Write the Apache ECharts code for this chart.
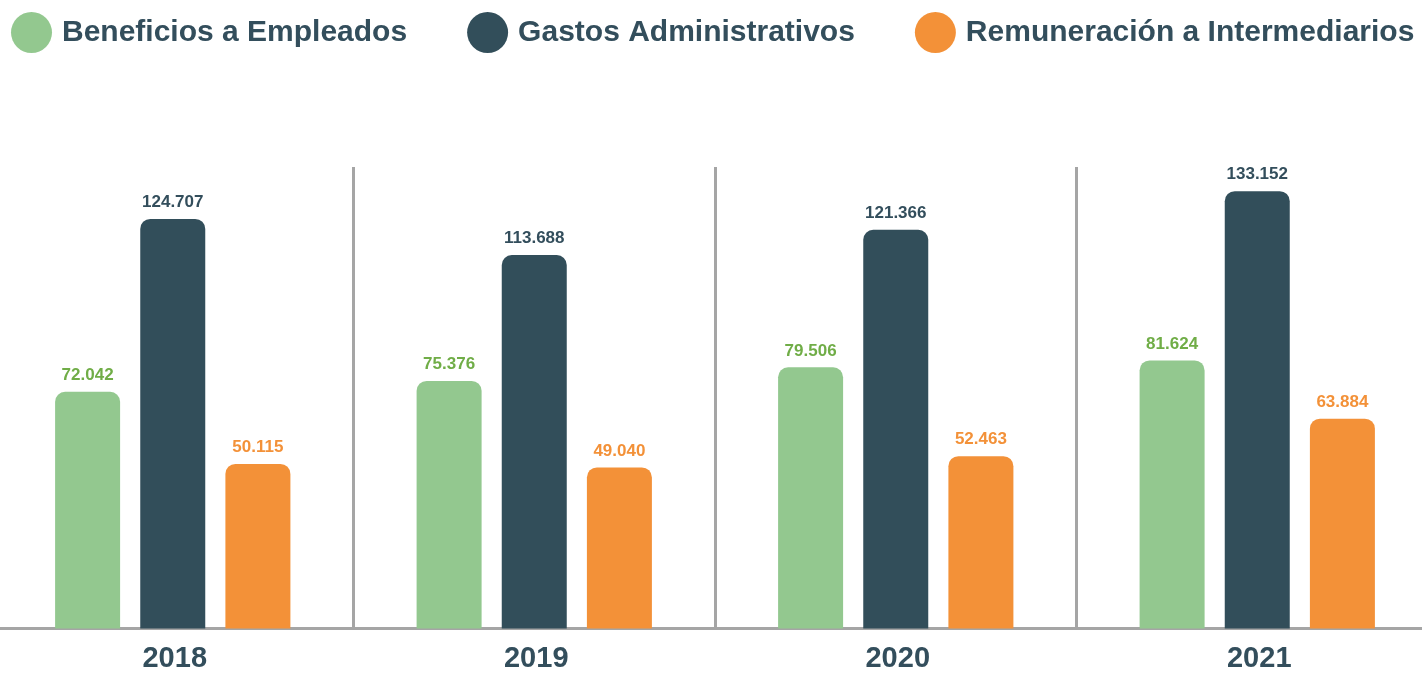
<!DOCTYPE html>
<html>
<head>
<meta charset="utf-8">
<script src="https://cdn.jsdelivr.net/npm/echarts@6/dist/echarts.min.js"></script>
<style>
  html, body { margin: 0; padding: 0; background: #ffffff; overflow: hidden; }
  body { width: 1422px; height: 674px; position: relative; }
  /* The plot is a little wider than the page so the outer category edges fall off-screen */
  #chart { position: absolute; left: -8.2px; top: 0; width: 1446px; height: 674px; }
</style>
</head>
<body>
<div id="chart"></div>
<script>
// Years shown on the category axis
const years = ['2018', '2019', '2020', '2021'];

// Series names
const seriesNames = ['Beneficios a Empleados', 'Gastos Administrativos', 'Remuneración a Intermediarios'];

// Values per year (thousands)
const beneficios = [72.042, 75.376, 79.506, 81.624];
const gastos = [124.707, 113.688, 121.366, 133.152];
const remuneracion = [50.115, 49.040, 52.463, 63.884];

const barColors = ['#93c88f', '#324e5a', '#f39138'];
const labelColors = ['#70ad47', '#334e5c', '#f39138'];
const textColor = '#334e5c';
const fontFamily = '"Liberation Sans", Arial, sans-serif';

const fmt = v => v.toFixed(3);

function barSeries(i, data) {
  return {
    name: seriesNames[i],
    type: 'bar',
    data: data,
    barWidth: 65,
    barGap: '31%',
    itemStyle: { color: barColors[i], borderRadius: [10, 10, 0, 0] },
    label: {
      show: true,
      position: 'top',
      distance: 8,
      formatter: p => fmt(p.value),
      color: labelColors[i],
      fontSize: 17,
      fontWeight: 'bold',
      fontFamily: fontFamily
    }
  };
}

const chart = echarts.init(document.getElementById('chart'), null, { renderer: 'canvas' });
chart.setOption({
  backgroundColor: '#ffffff',
  animation: false,
  legend: {
    top: 7,
    left: 14,
    icon: 'circle',
    itemWidth: 41,
    itemHeight: 41,
    itemGap: 60,
    textStyle: {
      color: textColor,
      fontSize: 30,
      fontWeight: 'bold',
      fontFamily: fontFamily,
      padding: [0, 0, 0, 5]
    },
    data: seriesNames
  },
  grid: {
    left: 0,
    right: 0,
    top: 167,
    bottom: 45.5,
    containLabel: false
  },
  xAxis: {
    type: 'category',
    data: years,
    axisLine: { show: true, lineStyle: { color: '#a5a5a5', width: 3 } },
    axisTick: { show: false },
    splitLine: { show: true, lineStyle: { color: '#a5a5a5', width: 3 } },
    axisLabel: {
      margin: 16,
      padding: [0, 0, 0, 4],
      color: textColor,
      fontSize: 29,
      fontWeight: 'bold',
      fontFamily: fontFamily
    }
  },
  yAxis: {
    type: 'value',
    min: 0,
    max: 140.5,
    show: false,
    splitLine: { show: false }
  },
  series: [
    barSeries(0, beneficios),
    barSeries(1, gastos),
    barSeries(2, remuneracion)
  ]
});
</script>
</body>
</html>
